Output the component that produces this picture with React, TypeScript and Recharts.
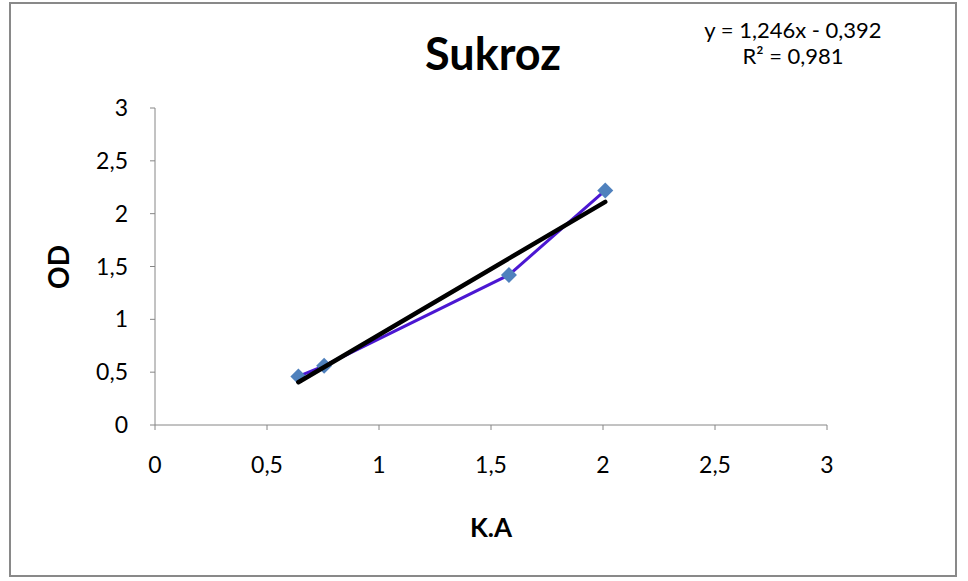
// Sukroz calibration chart

import { ScatterChart, Scatter, XAxis, YAxis } from 'recharts';

const pointsX = [0.64, 0.755, 1.58, 2.01];
const pointsOD = [0.46, 0.56, 1.42, 2.22];
const trendX = [0.64, 2.01];
const trendOD = [0.405, 2.112];
const axisTicks = [0, 0.5, 1, 1.5, 2, 2.5, 3];

const fmt = (v: number) => String(v).replace('.', ',');
const font = 'Lato, "Open Sans", sans-serif';

// square marker turned 45 degrees, like the spreadsheet default
const Diamond = (props: any) => {
  const { cx, cy } = props;
  const r = 8;
  return (
    <polygon
      points={`${cx},${cy - r} ${cx + r},${cy} ${cx},${cy + r} ${cx - r},${cy}`}
      fill="#4F81BD"
    />
  );
};

export default function App() {
  const data = pointsX.map((x, i) => ({ x, y: pointsOD[i] }));
  const trend = trendX.map((x, i) => ({ x, y: trendOD[i] }));

  return (
    <div style={{ position: 'absolute', left: 0, top: 0, width: 968, height: 581, background: '#fff', fontFamily: font }}>
      <div
        style={{
          position: 'absolute', left: 9, top: 2, width: 948, height: 575,
          border: '2px solid #898989', boxSizing: 'border-box',
        }}
      />
      <ScatterChart width={968} height={581} margin={{ top: 108, right: 141, left: 95, bottom: 116 }}>
        <XAxis
          type="number"
          dataKey="x"
          domain={[0, 3]}
          ticks={axisTicks}
          tickFormatter={fmt}
          height={40}
          stroke="#868686"
          tickSize={5}
          tickMargin={27}
          tick={{ fill: '#000', fontSize: 23, fontFamily: font }}
        />
        <YAxis
          type="number"
          dataKey="y"
          domain={[0, 3]}
          ticks={axisTicks}
          tickFormatter={fmt}
          width={60}
          stroke="#868686"
          tickSize={5}
          tickMargin={22}
          tick={{ fill: '#000', fontSize: 23, fontFamily: font }}
        />
        <Scatter
          data={data}
          line={{ stroke: '#4B17D2', strokeWidth: 3 }}
          fill="#4F81BD"
          shape={Diamond}
          legendType="none"
          isAnimationActive={false}
        />
        <Scatter
          data={trend}
          line={{ stroke: '#000', strokeWidth: 4.5, strokeLinecap: 'round' }}
          shape={() => <g />}
          isAnimationActive={false}
        />
      </ScatterChart>
      <div style={{ position: 'absolute', left: 343, top: 30, width: 300, textAlign: 'center', fontSize: 45, lineHeight: '46px', fontWeight: 'bold' }}>
        Sukroz
      </div>
      <div style={{ position: 'absolute', left: 643, top: 17, width: 300, textAlign: 'center', fontSize: 22, lineHeight: '26px' }}>
        y = 1,246x - 0,392
        <br />
        R² = 0,981
      </div>
      <div
        style={{
          position: 'absolute', left: 18, top: 250, width: 80, height: 34, lineHeight: '34px', textAlign: 'center',
          fontSize: 28, fontWeight: 'bold', transform: 'rotate(-90deg)',
        }}
      >
        OD
      </div>
      <div style={{ position: 'absolute', left: 441, top: 512, width: 100, textAlign: 'center', fontSize: 26, lineHeight: '30px', fontWeight: 'bold' }}>
        K.A
      </div>
    </div>
  );
}
